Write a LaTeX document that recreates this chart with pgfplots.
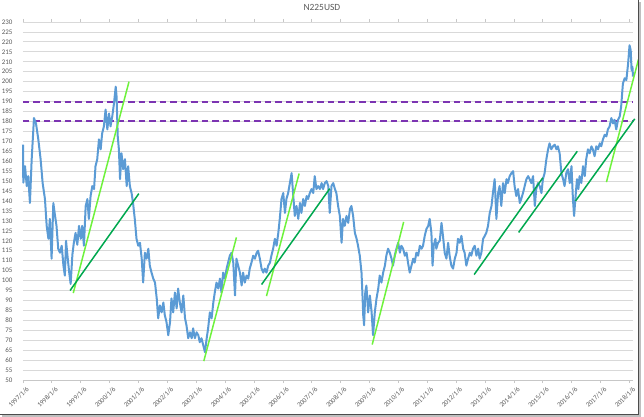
\documentclass[border=0pt]{standalone}
\usepackage{pgfplots}
\pgfplotsset{compat=1.18}
\usepackage{fontspec}
\setmainfont{Carlito}
\definecolor{xlblue}{HTML}{5B9BD5}
\definecolor{tlight}{HTML}{6EF23C}
\definecolor{tdark}{HTML}{00A84F}
\definecolor{dashpurple}{RGB}{124,52,178}
\definecolor{gridc}{HTML}{D9D9D9}
\definecolor{txt}{HTML}{595959}
\pgfplotstableread{
x y
1997.00 168.3
1997.01 149.2
1997.07 157.5
1997.13 147.5
1997.18 152.5
1997.24 139
1997.30 160.8
1997.38 181.7
1997.45 179
1997.53 171
1997.61 161
1997.68 149
1997.76 141
1997.82 127.5
1997.88 121
1997.93 131
1997.99 111
1998.05 139
1998.11 132.5
1998.16 127.5
1998.22 116
1998.28 114
1998.34 117.5
1998.40 107.5
1998.45 102.5
1998.49 120
1998.55 111
1998.60 104
1998.65 98.3
1998.71 113
1998.76 119
1998.82 124
1998.88 118
1998.94 127.5
1999.00 121
1999.05 127.5
1999.11 117.5
1999.17 137.5
1999.23 141
1999.28 131
1999.34 142.5
1999.40 147.5
1999.46 146
1999.51 157.5
1999.57 161
1999.63 171
1999.69 166
1999.74 174
1999.80 177.5
1999.86 186
1999.92 176
1999.98 184
2000.03 177.5
2000.09 182.5
2000.15 189
2000.21 197.5
2000.24 192.5
2000.28 172.5
2000.32 166
2000.36 151
2000.41 164
2000.47 156
2000.53 161
2000.59 147.5
2000.64 157.5
2000.70 147.5
2000.76 144
2000.81 139
2000.87 131
2000.93 121
2000.99 117.5
2001.05 119
2001.11 111
2001.16 99
2001.22 114
2001.28 111
2001.34 116
2001.39 107.5
2001.45 104
2001.51 101
2001.57 99
2001.63 91
2001.68 81
2001.74 87.5
2001.80 84
2001.86 89
2001.91 82.5
2001.97 79
2002.03 72.5
2002.09 79
2002.14 91
2002.20 84
2002.26 94
2002.32 86
2002.37 96
2002.43 89
2002.49 84
2002.55 92.5
2002.61 81
2002.66 77.5
2002.72 71
2002.78 74
2002.84 71
2002.89 76
2002.95 71
2003.01 74
2003.07 72.5
2003.12 69
2003.18 71
2003.24 67.5
2003.30 64
2003.36 71
2003.41 76
2003.47 84
2003.53 81
2003.59 89
2003.64 94
2003.70 99
2003.76 96
2003.82 101
2003.87 94
2003.93 104
2003.99 101
2004.05 106
2004.10 109
2004.16 112.5
2004.22 114
2004.28 109
2004.34 92.5
2004.39 111
2004.45 107.5
2004.51 104
2004.57 97.5
2004.62 104
2004.68 99
2004.74 102.5
2004.80 101
2004.85 106
2004.91 109
2004.97 112.5
2005.03 111
2005.09 114
2005.14 115
2005.20 111
2005.26 106
2005.32 104
2005.37 106
2005.43 104
2005.49 107.5
2005.55 109
2005.60 112.5
2005.66 116
2005.72 121
2005.78 117.5
2005.84 124
2005.89 131
2005.95 141
2006.01 144
2006.07 134
2006.12 141
2006.18 144
2006.24 149
2006.30 154
2006.35 144
2006.41 132.5
2006.47 137.5
2006.53 131
2006.59 139
2006.64 134
2006.70 141
2006.76 137.5
2006.82 142.5
2006.87 141
2006.93 144
2006.99 146
2007.05 144
2007.10 152.5
2007.16 146
2007.22 147.5
2007.28 146
2007.34 149
2007.39 146
2007.45 149
2007.51 150
2007.57 147.5
2007.62 134
2007.68 147.5
2007.74 149
2007.80 146
2007.85 144
2007.91 137.5
2007.97 132.5
2008.03 119
2008.08 131
2008.14 127.5
2008.20 132.5
2008.26 129
2008.32 136
2008.37 137.5
2008.43 132.5
2008.49 124
2008.55 121
2008.60 117.5
2008.66 112.5
2008.72 104
2008.75 94
2008.78 82.5
2008.81 77.5
2008.85 94
2008.89 97.5
2008.95 84
2009.01 92.5
2009.07 84
2009.12 72.5
2009.18 84
2009.24 91
2009.30 96
2009.35 102.5
2009.41 99
2009.47 104
2009.53 107.5
2009.58 112.5
2009.64 116
2009.70 114
2009.76 111
2009.81 107.5
2009.87 112.5
2009.93 116
2009.99 119
2010.05 114
2010.10 117.5
2010.16 116
2010.22 112.5
2010.28 114
2010.33 109
2010.39 104
2010.45 107.5
2010.51 111
2010.56 109
2010.62 114
2010.68 112.5
2010.74 117.5
2010.80 116
2010.85 117.5
2010.91 122.5
2010.97 126
2011.03 127.5
2011.08 131
2011.14 124
2011.18 107.5
2011.22 117.5
2011.28 121
2011.31 116
2011.37 119
2011.43 120
2011.49 129
2011.54 122.5
2011.60 114
2011.66 111
2011.72 119
2011.77 112.5
2011.83 107.5
2011.89 106
2011.95 111
2012.01 114
2012.06 121
2012.12 119
2012.18 122.5
2012.24 116
2012.29 114
2012.35 107.5
2012.41 111
2012.47 114
2012.52 112.5
2012.58 116
2012.64 117.5
2012.70 112.5
2012.76 116
2012.81 111
2012.87 114
2012.93 121
2012.99 122.5
2013.04 124
2013.10 127.5
2013.16 134
2013.22 137.5
2013.27 144
2013.33 151
2013.39 131
2013.45 144
2013.50 147.5
2013.56 137.5
2013.62 149
2013.68 144
2013.74 151
2013.79 149
2013.85 152.5
2013.91 154
2013.97 155
2014.02 147.5
2014.08 142.5
2014.14 146
2014.20 139
2014.25 141
2014.31 144
2014.37 147.5
2014.43 151
2014.49 152.5
2014.54 151
2014.60 149
2014.66 152.5
2014.72 137.5
2014.77 146
2014.83 149
2014.89 147.5
2014.95 144
2015.00 151
2015.06 154
2015.12 161
2015.18 166
2015.23 169
2015.29 166
2015.35 167.5
2015.41 168.3
2015.47 166
2015.52 167.5
2015.58 164
2015.64 154
2015.70 151
2015.75 147.5
2015.81 154
2015.87 156
2015.93 149
2015.99 157.5
2016.04 141
2016.08 132.5
2016.14 144
2016.18 151
2016.23 146
2016.27 152.5
2016.33 149
2016.39 157.5
2016.45 152.5
2016.50 161
2016.56 166
2016.62 164
2016.68 167.5
2016.73 166
2016.79 162.5
2016.85 167.5
2016.91 166
2016.97 169
2017.02 167.5
2017.08 171
2017.14 173.3
2017.20 172.5
2017.25 176
2017.31 177.5
2017.37 181.7
2017.43 179
2017.48 180.8
2017.54 176
2017.60 180.8
2017.66 182.5
2017.71 187.5
2017.77 199
2017.83 201.7
2017.89 200.8
2017.95 209
2018.00 218.3
2018.04 215.8
2018.07 205.8
2018.10 207.5
2018.12 202.5
}\seriesdata
\begin{document}
\begin{tikzpicture}
\useasboundingbox (-23bp,-37bp) rectangle (621bp,380bp);
\begin{axis}[
  at={(0,0)}, anchor=south west,
  scale only axis, width=610bp, height=358bp,
  xmin=1997, xmax=2018.12, ymin=50, ymax=230,
  ytick={50,55,...,230},
  xtick={1997,...,2018},
  xticklabels={1997/1/6,1998/1/6,1999/1/6,2000/1/6,2001/1/6,2002/1/6,2003/1/6,2004/1/6,2005/1/6,2006/1/6,2007/1/6,2008/1/6,2009/1/6,2010/1/6,2011/1/6,2012/1/6,2013/1/6,2014/1/6,2015/1/6,2016/1/6,2017/1/6,2018/1/6},
  /pgf/number format/assume math mode=true,
  yticklabel style={font=\fontsize{7}{8}\selectfont, text=txt, anchor=east, xshift=-4bp},
  xticklabel style={font=\fontsize{6.8}{8}\selectfont, text=txt, rotate=45, anchor=east, inner sep=1bp, xshift=1bp, yshift=-7bp},
  ymajorgrids, grid style={gridc, line width=0.8bp},
  axis line style={draw=none},
  ytick style={draw=none},
  xtick style={draw=gridc!80!gray, line width=0.8bp},
  tick align=outside, major tick length=3bp,
  clip=false,
  title={N225USD},
  title style={font=\fontsize{9.5}{11}\selectfont, text=txt, at={(0.49,1)}, anchor=base, yshift=6bp},
]
\draw[gridc!80!gray, line width=0.8bp] (axis cs:1997,50) -- (axis cs:2018.12,50);
\addplot[color=dashpurple, line width=2bp, dash pattern=on 6.5bp off 4bp] coordinates {(1997,190) (2018.12,190)};
\addplot[color=dashpurple, line width=2bp, dash pattern=on 6.5bp off 4bp] coordinates {(1997,180) (2018.12,180)};
\addplot[draw=xlblue, line width=2bp, line join=round] table[x=x,y=y] {\seriesdata};
% steep (light green) trend lines
\addplot[draw=tlight, line width=1.5bp] coordinates {(1998.74,93.7) (2000.67,200)};
\addplot[draw=tlight, line width=1.5bp] coordinates {(2003.26,59.5) (2004.39,121.7)};
\addplot[draw=tlight, line width=1.5bp] coordinates {(2005.43,92.2) (2006.56,153.8)};
\addplot[draw=tlight, line width=1.5bp] coordinates {(2009.09,67.8) (2010.18,129.5)};
\addplot[draw=tlight, line width=1.5bp] coordinates {(2017.20,149.5) (2018.31,211.2)};
% gentle (dark green) trend lines
\addplot[draw=tdark, line width=1.5bp] coordinates {(1998.63,95) (2001.01,143.7)};
\addplot[draw=tdark, line width=1.5bp] coordinates {(2005.26,98) (2007.62,146.2)};
\addplot[draw=tdark, line width=1.5bp] coordinates {(2012.62,103) (2015.00,151.7)};
\addplot[draw=tdark, line width=1.5bp] coordinates {(2014.16,124.2) (2016.19,165)};
\addplot[draw=tdark, line width=1.5bp] coordinates {(2016.13,140) (2018.18,181.3)};
\end{axis}
\draw[black!25, line width=1.5bp] (-21bp,-36bp) -- (617bp,-36bp) -- (617bp,378bp);
\draw[black!70, line width=1bp] (-23bp,-34bp) -- (615bp,-34bp) -- (615bp,380bp);
\end{tikzpicture}
\end{document}
